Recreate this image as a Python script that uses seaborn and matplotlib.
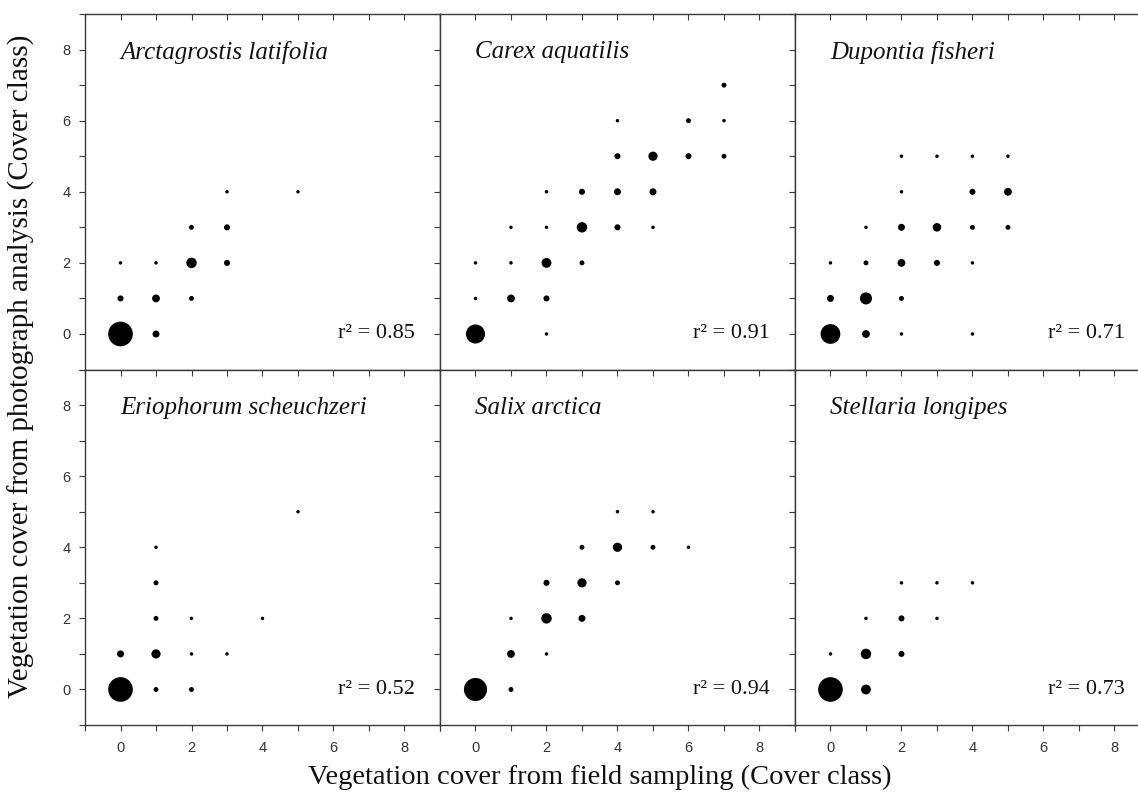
import matplotlib
matplotlib.use("Agg")
import matplotlib.pyplot as plt
import seaborn as sns
import pandas as pd

species = ["Arctagrostis latifolia", "Carex aquatilis", "Dupontia fisheri",
           "Eriophorum scheuchzeri", "Salix arctica", "Stellaria longipes"]
r2_labels = ["0.85", "0.91", "0.71", "0.52", "0.94", "0.73"]

arct_x = [0, 1, 0, 1, 2, 0, 1, 2, 3, 2, 3, 3, 5]
arct_y = [0, 0, 1, 1, 1, 2, 2, 2, 2, 3, 3, 4, 4]
arct_n = [50, 4, 3, 5, 2, 1, 1, 9, 3, 2, 3, 1, 1]

carex_x = [0, 2, 0, 1, 2, 0, 1, 2, 3, 1, 2, 3, 4, 5, 2, 3, 4, 5, 4, 5, 6, 7, 4, 6, 7, 7]
carex_y = [0, 0, 1, 1, 1, 2, 2, 2, 2, 3, 3, 3, 3, 3, 4, 4, 4, 4, 5, 5, 5, 5, 6, 6, 6, 7]
carex_n = [30, 1, 1, 5, 3, 1, 1, 8, 2, 1, 1, 9, 3, 1, 1, 3, 4, 4, 3, 7, 3, 2, 1, 2, 1, 2]

dupo_x = [0, 1, 2, 4, 0, 1, 2, 0, 1, 2, 3, 4, 1, 2, 3, 4, 5, 2, 4, 5, 2, 3, 4, 5]
dupo_y = [0, 0, 0, 0, 1, 1, 1, 2, 2, 2, 2, 2, 3, 3, 3, 3, 3, 4, 4, 4, 5, 5, 5, 5]
dupo_n = [32, 5, 1, 1, 4, 12, 2, 1, 2, 5, 3, 1, 1, 4, 6, 2, 2, 1, 3, 5, 1, 1, 1, 1]

erio_x = [0, 1, 2, 0, 1, 2, 3, 1, 2, 4, 1, 1, 5]
erio_y = [0, 0, 0, 1, 1, 1, 1, 2, 2, 2, 3, 4, 5]
erio_n = [58, 2, 2, 4, 7, 1, 1, 2, 1, 1, 2, 1, 1]

salix_x = [0, 1, 1, 2, 1, 2, 3, 2, 3, 4, 3, 4, 5, 6, 4, 5]
salix_y = [0, 0, 1, 1, 2, 2, 2, 3, 3, 3, 4, 4, 4, 4, 5, 5]
salix_n = [44, 2, 5, 1, 1, 9, 4, 3, 7, 2, 2, 7, 2, 1, 1, 1]

stel_x = [0, 1, 0, 1, 2, 1, 2, 3, 2, 3, 4]
stel_y = [0, 0, 1, 1, 1, 2, 2, 2, 3, 3, 3]
stel_n = [58, 8, 1, 9, 3, 1, 3, 1, 1, 1, 1]

panel_data = [(arct_x, arct_y, arct_n), (carex_x, carex_y, carex_n),
              (dupo_x, dupo_y, dupo_n), (erio_x, erio_y, erio_n),
              (salix_x, salix_y, salix_n), (stel_x, stel_y, stel_n)]

tick_vals = list(range(-1, 10))
tick_text = [str(v) if (v % 2 == 0 and 0 <= v <= 8) else "" for v in tick_vals]

sns.set_theme(style="white")
plt.rcParams["font.family"] = ["Liberation Sans", "DejaVu Sans"]
serif = ["Liberation Serif", "DejaVu Serif"]

fig, axes = plt.subplots(2, 3, figsize=(11.38, 7.97), dpi=100)
fig.subplots_adjust(left=0.0747, right=1.0105, top=0.9824, bottom=0.0903,
                    wspace=0, hspace=0)

spine_col = "#3a3a3a"
tick_kw = dict(length=4.5, width=0.8, color=spine_col)
for i, ax in enumerate(axes.flat):
    xs, ys, ns = panel_data[i]
    df = pd.DataFrame({"x": xs, "y": ys, "n": ns})
    sns.scatterplot(data=df, x="x", y="y", size="n", sizes=(6.3, 315),
                    size_norm=(1, 50), color="black", edgecolor="none",
                    legend=False, ax=ax)
    ax.set_xlim(-1, 9)
    ax.set_ylim(-1, 9)
    ax.set_xlabel("")
    ax.set_ylabel("")
    for sp in ax.spines.values():
        sp.set_color(spine_col)
        sp.set_linewidth(1.0)
    row, col = divmod(i, 3)
    ax.set_xticks(tick_vals)
    ax.set_yticks(tick_vals)

    # x axis: bottom ticks (outward) only on the bottom row, top ticks inward
    if row == 1:
        ax.set_xticklabels(tick_text)
        ax.tick_params(axis="x", direction="out", bottom=True, top=False,
                       labelsize=10.5, labelcolor="#333333", pad=7, **tick_kw)
    else:
        ax.set_xticklabels([])
        ax.tick_params(axis="x", bottom=False, top=False)
    secx = ax.secondary_xaxis("top")
    secx.set_xticks(tick_vals)
    secx.set_xticklabels([])
    secx.tick_params(direction="in", **tick_kw)
    secx.spines["top"].set_visible(False)

    # y axis: left ticks (outward) only on the first column, right ticks inward
    if col == 0:
        ax.set_yticklabels(tick_text)
        ax.tick_params(axis="y", direction="out", left=True, right=False,
                       labelsize=10.5, labelcolor="#333333", pad=6, **tick_kw)
    else:
        ax.set_yticklabels([])
        ax.tick_params(axis="y", left=False, right=False)
    secy = ax.secondary_yaxis("right")
    secy.set_yticks(tick_vals)
    secy.set_yticklabels([])
    secy.tick_params(direction="in", **tick_kw)
    secy.spines["right"].set_visible(False)

    ax.text(0.1, 0.893, species[i], transform=ax.transAxes, ha="left",
            va="center", fontsize=18, style="italic",
            family=serif, color="#111111")
    ax.text(0.93, 0.10, "r\u00b2 = " + r2_labels[i], transform=ax.transAxes,
            ha="right", va="center", fontsize=16,
            family=serif, color="#111111")

fig.text(0.019, 0.54, "Vegetation cover from photograph analysis (Cover class)",
         rotation=90, ha="center", va="center", fontsize=21,
         family=serif, color="#111111")
fig.text(0.527, 0.024, "Vegetation cover from field sampling (Cover class)",
         ha="center", va="center", fontsize=20.5,
         family=serif, color="#111111")

fig.savefig("out.png", dpi=100)
